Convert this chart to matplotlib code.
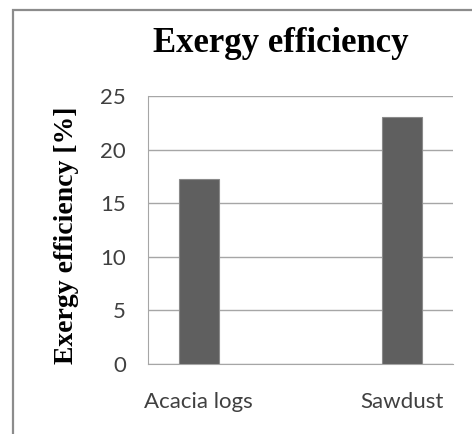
import matplotlib
matplotlib.use("Agg")
import matplotlib.pyplot as plt
from matplotlib.patches import Rectangle

# data
categories = ["Acacia logs", "Sawdust"]
efficiency = [17.3, 23.0]
y_ticks = [0, 5, 10, 15, 20, 25]

W, H = 472, 434
fig = plt.figure(figsize=(W / 100, H / 100), dpi=100)
fig.patch.set_facecolor("white")

# outer chart frame (cut off on right and bottom in the reference)
fig.add_artist(Rectangle((13 / W, -0.1), 1.2, 1.1 - 10 / H, transform=fig.transFigure,
                         facecolor="none", edgecolor="#8c8c8c", linewidth=1.6, clip_on=False))

ax = fig.add_axes([148 / W, (H - 364) / H, (453 - 148) / W, (364 - 96) / H])
x = range(len(categories))
ax.bar(x, efficiency, width=0.197, color="#5f5f5f", edgecolor="#8a8a8a", linewidth=0.8, zorder=3)

ax.set_xlim(-0.25, 1.25)
ax.set_ylim(0, 25)
ax.set_yticks(y_ticks)
ax.set_xticks(list(x))
ax.set_xticklabels(categories)
ax.yaxis.grid(True, color="#a6a6a6", linewidth=1.0, zorder=0)
ax.set_axisbelow(True)
for s in ("top", "right"):
    ax.spines[s].set_visible(False)
ax.spines["left"].set_color("#a6a6a6")
ax.spines["bottom"].set_color("#a6a6a6")
ax.tick_params(length=0, labelsize=16, colors="#404040", labelfontfamily="Lato")
ax.tick_params(axis="y", pad=16)
ax.tick_params(axis="x", pad=20)

ax.set_ylabel("Exergy efficiency [%]", family="Liberation Serif", fontweight="bold",
              fontsize=20, color="black")
ax.yaxis.set_label_coords(-0.225, 0.48)
fig.text(281 / W, 1 - 43 / H, "Exergy efficiency", family="Liberation Serif",
         fontweight="bold", fontsize=25, ha="center", va="center")

fig.savefig("out.png", dpi=100)
